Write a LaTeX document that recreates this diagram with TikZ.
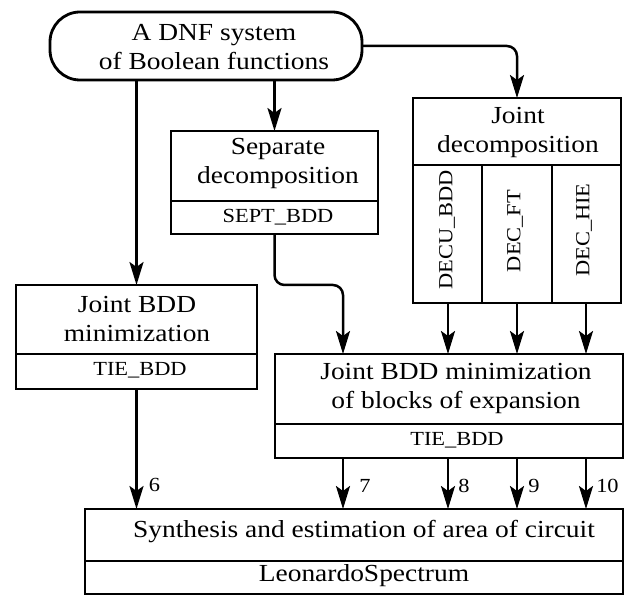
\documentclass[tikz,border=0pt]{standalone}
\usepackage{fontspec}
\setmainfont{Liberation Serif}[FakeStretch=1.12]
\usetikzlibrary{arrows.meta,calc}
\begin{document}
\begin{tikzpicture}[x=1pt,y=-1pt,
  box/.style={draw, line width=2.8pt, rectangle, inner sep=0pt, outer sep=0pt},
  divider/.style={line width=2.8pt},
  big/.style={inner sep=0pt, align=center, font=\fontsize{24.5}{29}\selectfont},
  small/.style={inner sep=0pt, align=center, font=\fontsize{20}{22}\selectfont},
  lbl/.style={inner sep=0pt, anchor=west, font=\fontsize{20}{22}\selectfont},
  arr/.style={line width=2.5pt, -{Stealth[length=23pt,width=14pt,inset=5pt]}},
  conn/.style={arr, rounded corners=10pt}]
\useasboundingbox (0,0) rectangle (625,596);

% boxes
\node[box, rounded corners=30pt, minimum width=312pt, minimum height=68pt] (dnf) at (206,46) {};
\node[box, minimum width=207pt, minimum height=103pt] (sep) at (274.5,182.5) {};
\node[box, minimum width=208pt, minimum height=205pt] (jd) at (517,200.5) {};
\node[box, minimum width=241pt, minimum height=104pt] (jbdd) at (136.5,337) {};
\node[box, minimum width=348pt, minimum height=104pt] (blk) at (449,406) {};
\node[box, minimum width=538pt, minimum height=85pt] (syn) at (354,551.5) {};

% dividers
\draw[divider] (sep.west |- 0,201) -- (sep.east |- 0,201);
\draw[divider] (jd.west |- 0,165) -- (jd.east |- 0,165);
\draw[divider] (482,165) -- (482,303);
\draw[divider] (552,165) -- (552,303);
\draw[divider] (jbdd.west |- 0,354) -- (jbdd.east |- 0,354);
\draw[divider] (blk.west |- 0,424) -- (blk.east |- 0,424);
\draw[divider] (syn.west |- 0,561) -- (syn.east |- 0,561);

% texts
\node[big] (tdnf) at (214,47) {A DNF system\\of Boolean functions};
\node[big] (tsep) at (278,163.5) {Separate\\decomposition};
\node[small] (tsept) at (278,217) {SEPT\_BDD};
\node[big] (tjd) at (518,132.5) {Joint\\decomposition};
\node[small, rotate=90] (tdecu) at (447,230) {DECU\_BDD};
\node[small, rotate=90] (tdecft) at (515,231) {DEC\_FT};
\node[small, rotate=90] (tdechie) at (584,230) {DEC\_HIE};
\node[big] (tjbdd) at (137,319.5) {Joint BDD\\minimization};
\node[small] (ttie1) at (140,370) {TIE\_BDD};
\node[big] (tblk) at (456,388.5) {Joint BDD minimization\\of blocks of expansion};
\node[small] (ttie2) at (457,440) {TIE\_BDD};
\node[big] (tsyn) at (364,532) {Synthesis and estimation of area of circuit};
\node[big] (tleo) at (364,576) {LeonardoSpectrum};

% connector anchor points
\coordinate (b7) at ($(blk.north west)+(68,0)$);
\coordinate (j1) at (448,303);
\coordinate (j2) at (517,303);
\coordinate (j3) at (586,303);

% connectors
\draw[arr] (jbdd.north |- dnf.south) -- (jbdd.north);
\draw[arr] (sep.north |- dnf.south) -- (sep.north);
\draw[conn] (dnf.east) -- (jd.north |- dnf.east) -- (jd.north);
\draw[conn] (sep.south) -- (sep.south |- jbdd.north) -- (b7 |- jbdd.north) -- (b7);
\draw[arr] (j1) -- (j1 |- blk.north);
\draw[arr] (j2) -- (j2 |- blk.north);
\draw[arr] (j3) -- (j3 |- blk.north);

\draw[arr] (jbdd.south) -- (jbdd.south |- syn.north) node[lbl, pos=0.8, xshift=11pt] (l6) {6};
\draw[arr] (b7 |- blk.south) -- (b7 |- syn.north) node[lbl, pos=0.55, xshift=15pt] (l7) {7};
\draw[arr] (j1 |- blk.south) -- (j1 |- syn.north) node[lbl, pos=0.55, xshift=9pt] (l8) {8};
\draw[arr] (j2 |- blk.south) -- (j2 |- syn.north) node[lbl, pos=0.55, xshift=10pt] (l9) {9};
\draw[arr] (j3 |- blk.south) -- (j3 |- syn.north) node[lbl, pos=0.55, xshift=9pt] (l10) {10};
\end{tikzpicture}
\end{document}
